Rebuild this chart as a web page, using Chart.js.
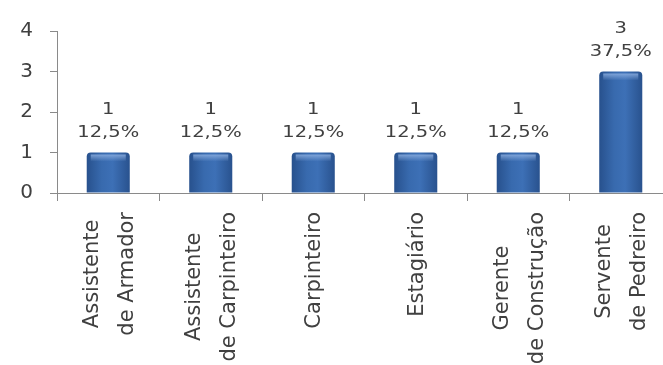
<!DOCTYPE html>
<html lang="pt">
<head>
    <meta charset="UTF-8">
    <title>Cargos</title>
    <script src="https://cdn.jsdelivr.net/npm/chart.js"></script>
    <style>
        body { margin: 0; background: #fff; overflow: hidden; }
        .wrap { position: relative; width: 672px; height: 365px; }
    </style>
</head>
<body>
    <div class="wrap"><canvas id="chart"></canvas></div>
    <script>
        // Data
        const categories = [
            ['Assistente', 'de Armador'],
            ['Assistente', 'de Carpinteiro'],
            ['Carpinteiro'],
            ['Estagiário'],
            ['Gerente', 'de Construção'],
            ['Servente', 'de Pedreiro']
        ];
        const counts = [1, 1, 1, 1, 1, 3];
        const percents = ['12,5%', '12,5%', '12,5%', '12,5%', '12,5%', '37,5%'];
        const yTicks = [0, 1, 2, 3, 4];

        const textColor = '#404040';
        const axisColor = '#8a8a8a';

        // blue cylinder-ish gradient per bar
        function barFill(ctx) {
            const chart = ctx.chart;
            const xs = chart.scales.x;
            if (!xs || ctx.dataIndex === undefined) return '#3463a6';
            const cx = xs.getPixelForValue(ctx.dataIndex);
            if (!isFinite(cx)) return '#3463a6';
            const g = chart.ctx.createLinearGradient(cx - 22, 0, cx + 22, 0);
            g.addColorStop(0, '#27508c');
            g.addColorStop(0.35, '#386aae');
            g.addColorStop(0.6, '#3d70b6');
            g.addColorStop(1, '#28518d');
            return g;
        }

        // value + percent labels above bars, and two-line rotated category labels
        const labelPlugin = {
            id: 'labels',
            afterDatasetsDraw(chart) {
                const c = chart.ctx;
                const meta = chart.getDatasetMeta(0);
                const xs = chart.scales.x;
                c.save();
                // light cap on top of each bar
                meta.data.forEach(bar => {
                    const g = c.createLinearGradient(0, bar.y + 2, 0, bar.y + 9);
                    g.addColorStop(0, 'rgba(140,175,225,0.85)');
                    g.addColorStop(1, 'rgba(140,175,225,0)');
                    c.fillStyle = g;
                    c.fillRect(bar.x - bar.width / 2 + 4, bar.y + 2, bar.width - 8, 7);
                });

                c.fillStyle = textColor;
                c.textAlign = 'center';
                c.textBaseline = 'alphabetic';
                c.font = '15px "DejaVu Sans"';
                meta.data.forEach((bar, i) => {
                    c.save();
                    c.translate(bar.x, bar.y);
                    c.scale(1.3, 1);
                    c.fillText(String(counts[i]), 0, -39);
                    c.fillText(percents[i], 0, -16);
                    c.restore();
                });

                // x category labels, rotated, lines centred inside block
                c.font = '21px "DejaVu Sans"';
                const top = xs.top + 19;
                const lineGap = 35;
                categories.forEach((lines, i) => {
                    const cx = xs.getPixelForValue(i);
                    const widths = lines.map(l => c.measureText(l).width);
                    const blockW = Math.max(...widths);
                    const midY = top + blockW / 2;
                    lines.forEach((line, j) => {
                        const off = (j - (lines.length - 1) / 2) * lineGap;
                        c.save();
                        c.translate(cx + off + 7, midY);
                        c.rotate(-Math.PI / 2);
                        c.textAlign = 'center';
                        c.fillText(line, 0, 0);
                        c.restore();
                    });
                });
                c.restore();
            }
        };

        new Chart(document.getElementById('chart'), {
            type: 'bar',
            data: {
                labels: categories,
                datasets: [{
                    data: counts,
                    backgroundColor: barFill,
                    borderRadius: { topLeft: 4, topRight: 4 },
                    borderSkipped: 'bottom',
                    barPercentage: 0.42,
                    categoryPercentage: 1
                }]
            },
            options: {
                responsive: true,
                maintainAspectRatio: false,
                animation: false,
                layout: { padding: { top: 31, right: 0, left: 0, bottom: 0 } },
                plugins: {
                    legend: { display: false },
                    tooltip: { enabled: false }
                },
                scales: {
                    x: {
                        ticks: { display: false },
                        grid: { offset: true, drawOnChartArea: false, drawTicks: true, tickLength: 8, color: axisColor },
                        border: { color: axisColor, width: 1 },
                        afterFit: s => { s.height = 172; }
                    },
                    y: {
                        min: 0,
                        max: 4,
                        afterBuildTicks: s => { s.ticks = yTicks.map(v => ({ value: v })); },
                        ticks: {
                            color: textColor,
                            font: { family: 'DejaVu Sans', size: 20 },
                            padding: 17
                        },
                        grid: { drawOnChartArea: false, drawTicks: true, tickLength: 7, color: axisColor },
                        border: { color: axisColor, width: 1 },
                        afterFit: s => { s.width = 57; }
                    }
                }
            },
            plugins: [labelPlugin]
        });
    </script>
</body>
</html>
